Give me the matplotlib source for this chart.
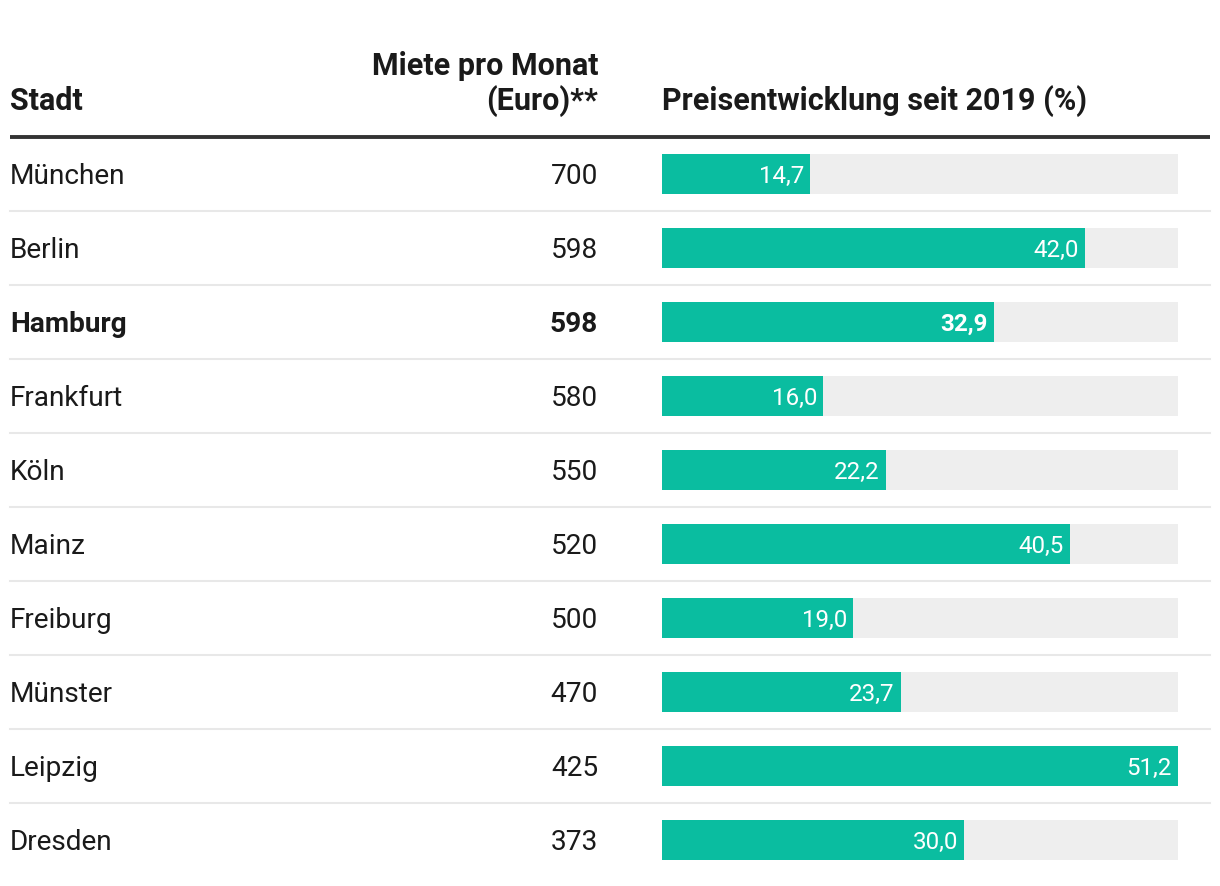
import matplotlib
matplotlib.use("Agg")
import matplotlib.pyplot as plt

# ---- data ----
cities = ["München", "Berlin", "Hamburg", "Frankfurt", "Köln", "Mainz",
          "Freiburg", "Münster", "Leipzig", "Dresden"]
rents = [700, 598, 598, 580, 550, 520, 500, 470, 425, 373]
growth = [14.7, 42.0, 32.9, 16.0, 22.2, 40.5, 19.0, 23.7, 51.2, 30.0]
highlight = "Hamburg"
header_city = "Stadt"
header_rent = ["Miete pro Monat", "(Euro)**"]
header_growth = "Preisentwicklung seit 2019 (%)"

# ---- style ----
W, H = 1220, 886
TXT = "#1a1a1a"
TEAL = "#0abda0"
TRACK = "#eeeeee"
SEP = "#e8e8e8"
FONT = ["Roboto", "DejaVu Sans"]
plt.rcParams["font.family"] = FONT

fig = plt.figure(figsize=(W / 100, H / 100), dpi=100)
ax = fig.add_axes([0, 0, 1, 1])
ax.set_xlim(0, W)
ax.set_ylim(H, 0)
ax.axis("off")

row_top = 137
row_h = 74
n = len(cities)
fs_row = 20.2
fs_head = 22.0
fs_bar = 17.4

# headers
ax.text(10, 110, header_city, ha="left", va="baseline", fontsize=fs_head,
        fontweight="bold", color=TXT)
ax.text(598, 75, header_rent[0], ha="right", va="baseline", fontsize=fs_head,
        fontweight="bold", color=TXT)
ax.text(598, 110, header_rent[1], ha="right", va="baseline", fontsize=fs_head,
        fontweight="bold", color=TXT)
ax.text(662, 110, header_growth, ha="left", va="baseline", fontsize=fs_head,
        fontweight="bold", color=TXT)
ax.plot([10, 1210], [row_top, row_top], color="#333333", lw=2.8,
        solid_capstyle="butt")

for i, (c, r) in enumerate(zip(cities, rents)):
    yc = row_top + row_h * i + row_h / 2
    fw = "bold" if c == highlight else "normal"
    ax.text(10, yc + 9.5, c, ha="left", va="baseline", fontsize=fs_row,
            fontweight=fw, color=TXT)
    ax.text(598, yc + 9.5, f"{r}", ha="right", va="baseline", fontsize=fs_row,
            fontweight=fw, color=TXT)
    if i < n - 1:
        ys = row_top + row_h * (i + 1)
        ax.plot([10, 1210], [ys, ys], color=SEP, lw=1.5)

# bars
x0, x1 = 662, 1178
bottom = 1 - (row_top + row_h * n) / H
height = (row_h * n) / H
bx = fig.add_axes([x0 / W, bottom, (x1 - x0) / W, height])
gmax = max(growth)
bx.set_xlim(0, gmax)
bx.set_ylim(n - 0.5, -0.5)
bx.axis("off")
ypos = list(range(n))
bh = 40 / row_h
bx.barh(ypos, [gmax] * n, height=bh, color=TRACK, linewidth=0)
bx.barh(ypos, growth, height=bh, color=TEAL, linewidth=0)
pad = 6 / (x1 - x0) * gmax
for i, (c, g) in enumerate(zip(cities, growth)):
    fw = "bold" if c == highlight else "normal"
    bx.text(g - pad, i, f"{g:.1f}".replace(".", ","), ha="right",
            va="center_baseline", fontsize=fs_bar, color="white", fontweight=fw)

fig.savefig("out.png", dpi=100)
